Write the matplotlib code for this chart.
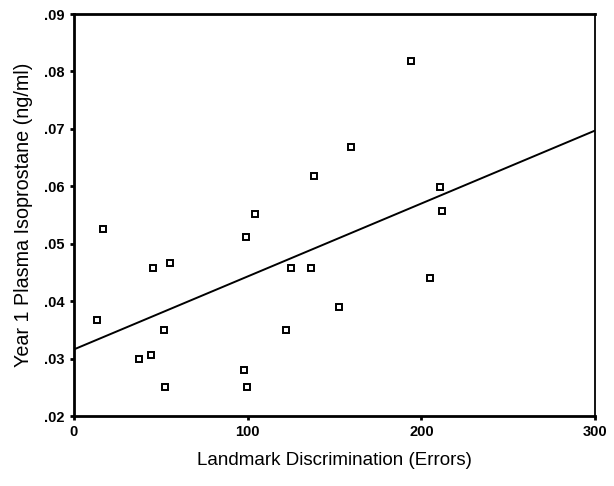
import matplotlib
matplotlib.use("Agg")
import matplotlib.pyplot as plt
import numpy as np

plt.rcParams['font.family'] = ['Liberation Sans', 'DejaVu Sans']

# data
errors = [13.4, 16.7, 37.6, 44.3, 45.5, 55.3, 51.8, 52.2, 98.1, 99.6, 99.0,
          104.2, 121.9, 124.8, 136.3, 138.2, 152.8, 159.3, 194.0, 205.0,
          210.7, 212.1]
isoprostane = [.0368, .0526, .0299, .0307, .0458, .0467, .0350, .0250, .0280,
               .0250, .0511, .0552, .0350, .0458, .0458, .0618, .0389, .0669,
               .0819, .0440, .0599, .0557]

# fitted line
fit_intercept = 0.0316
fit_slope = 0.000127

x_ticks = [0, 100, 200, 300]
y_ticks = [.02, .03, .04, .05, .06, .07, .08, .09]
y_tick_labels = ['.02', '.03', '.04', '.05', '.06', '.07', '.08', '.09']

fig = plt.figure(figsize=(6.14, 4.86), dpi=100)
ax = fig.add_axes([74 / 614, 1 - 416 / 486, (595 - 74) / 614, (416 - 14) / 486])

ax.plot(errors, isoprostane, 's', markersize=5, markerfacecolor='white',
        markeredgecolor='black', markeredgewidth=1.4, linestyle='none')

xs = np.array([0, 300])
ax.plot(xs, fit_intercept + fit_slope * xs, color='black', linewidth=1.4)

ax.set_xlim(0, 300)
ax.set_ylim(.02, .09)
ax.set_xticks(x_ticks)
ax.set_yticks(y_ticks)
ax.set_yticklabels(y_tick_labels)

for s in ['left', 'bottom', 'top']:
    ax.spines[s].set_linewidth(2)
ax.spines['right'].set_linewidth(1.3)

ax.tick_params(direction='out', length=3, width=2, labelsize=10.5)
for lab in ax.get_xticklabels() + ax.get_yticklabels():
    lab.set_fontweight('bold')

ax.set_xlabel('Landmark Discrimination (Errors)', fontsize=13.5, labelpad=9)
ax.set_ylabel('Year 1 Plasma Isoprostane (ng/ml)', fontsize=14.2, labelpad=8)

fig.savefig('out.png', dpi=100)
